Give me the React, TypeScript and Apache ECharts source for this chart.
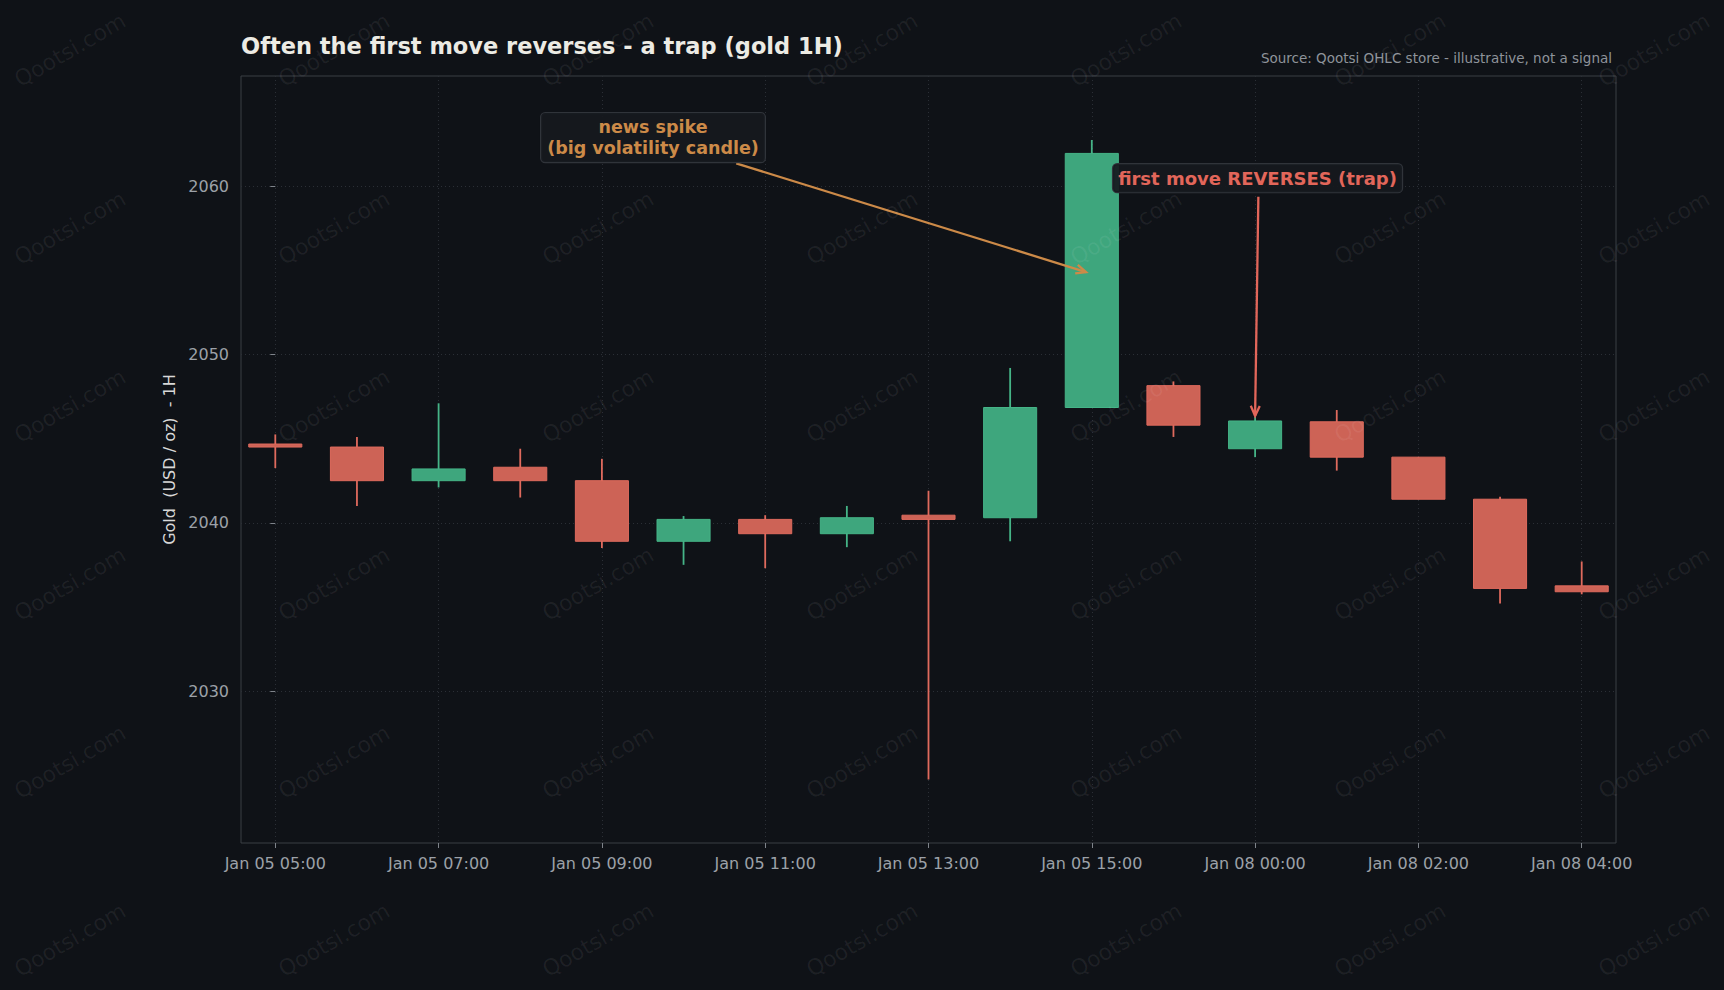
import React, { useEffect, useRef } from 'react';
import * as echarts from 'echarts';

// Hourly gold candles (USD / oz)
const categories = [
  'Jan 05 05:00', 'Jan 05 06:00', 'Jan 05 07:00', 'Jan 05 08:00', 'Jan 05 09:00', 'Jan 05 10:00',
  'Jan 05 11:00', 'Jan 05 12:00', 'Jan 05 13:00', 'Jan 05 14:00', 'Jan 05 15:00', 'Jan 05 16:00',
  'Jan 08 00:00', 'Jan 08 01:00', 'Jan 08 02:00', 'Jan 08 03:00', 'Jan 08 04:00',
];
const opens = [2044.68, 2044.5, 2042.5, 2043.3, 2042.5, 2038.9, 2040.2, 2039.35, 2040.45, 2040.3, 2046.85, 2048.15, 2044.4, 2046.0, 2043.9, 2041.4, 2036.25];
const closes = [2044.5, 2042.5, 2043.2, 2042.5, 2038.9, 2040.2, 2039.35, 2040.3, 2040.2, 2046.85, 2061.95, 2045.8, 2046.05, 2043.9, 2041.4, 2036.1, 2035.9];
const highs = [2045.25, 2045.1, 2047.1, 2044.4, 2043.8, 2040.4, 2040.45, 2041.0, 2041.9, 2049.2, 2062.75, 2048.4, 2046.3, 2046.7, 2043.9, 2041.55, 2037.7];
const lows = [2043.25, 2041.0, 2042.1, 2041.5, 2038.5, 2037.5, 2037.3, 2038.55, 2024.75, 2038.9, 2046.85, 2045.1, 2043.9, 2043.1, 2041.4, 2035.2, 2035.75];

const priceTicks = [2030, 2040, 2050, 2060];
const timeTicks = categories.map((_, i) => i).filter((i) => i % 2 === 0);

const Y_MIN = 2020.97;
const Y_MAX = 2066.55;
const X_MIN = -0.42;
const X_MAX = 16.42;
const BODY_WIDTH = 0.65;

// Callouts: label anchor, arrow start and arrow tip, in (candle index, price)
const newsNote = { text: 'news spike\n(big volatility candle)', at: [4.626, 2062.89], from: [5.645, 2061.36], to: [9.93, 2054.9] };
const trapNote = { text: 'first move REVERSES (trap)', at: [12.03, 2060.48], from: [12.04, 2059.37], to: [12.0, 2046.35] };

const BG = '#0f1217';
const UP = '#45b487';
const UP_FILL = '#3ea67d';
const DOWN = '#df6a5d';
const DOWN_FILL = '#cd6356';
const NEWS_COLOR = '#cc8a48';
const TRAP_COLOR = '#e2665a';
const FONT = '"DejaVu Sans", sans-serif';

export default function App() {
  const ref = useRef<HTMLDivElement>(null);

  useEffect(() => {
    if (!ref.current) return;
    document.body.style.margin = '0';
    document.body.style.background = BG;
    const chart = echarts.init(ref.current, null, { renderer: 'svg' });

    const data = categories.map((_, i) => [i, opens[i], closes[i], lows[i], highs[i]]);

    chart.setOption({
      animation: false,
      backgroundColor: BG,
      textStyle: { fontFamily: FONT },
      grid: {
        left: 241, top: 76, width: 1375, height: 767,
        show: true, borderColor: '#3a3e44', borderWidth: 1, backgroundColor: 'transparent',
      },
      xAxis: {
        type: 'value', min: X_MIN, max: X_MAX,
        axisLine: { show: false },
        axisTick: { show: true, length: 5, customValues: timeTicks, lineStyle: { color: '#7f848b' } },
        axisLabel: {
          customValues: timeTicks, margin: 12, color: '#9ca1a8', fontSize: 16, fontFamily: FONT,
          formatter: (v: number) => categories[Math.round(v)] ?? '',
        },
        splitLine: { show: true, lineStyle: { color: '#2b2f36', type: [1, 3], width: 1 } },
      },
      yAxis: {
        type: 'value', min: Y_MIN, max: Y_MAX,
        axisLine: { show: false },
        axisTick: { show: true, length: 5, customValues: priceTicks, lineStyle: { color: '#7f848b' } },
        axisLabel: {
          customValues: priceTicks, margin: 12, color: '#9ca1a8', fontSize: 16, fontFamily: FONT,
          formatter: (v: number) => String(Math.round(v)),
        },
        splitLine: { show: true, lineStyle: { color: '#2b2f36', type: [1, 3], width: 1 } },
      },
      series: [
        {
          type: 'custom',
          data,
          encode: { x: 0, y: [1, 2, 3, 4] },
          clip: true,
          renderItem: (_params: any, api: any) => {
            const x = api.value(0);
            const o = api.value(1);
            const c = api.value(2);
            const l = api.value(3);
            const h = api.value(4);
            const up = c >= o;
            const [cx, yHigh] = api.coord([x, h]);
            const yLow = api.coord([x, l])[1];
            const yO = api.coord([x, o])[1];
            const yC = api.coord([x, c])[1];
            const w = api.size([BODY_WIDTH, 0])[0];
            const top = Math.min(yO, yC);
            const hgt = Math.max(Math.abs(yO - yC), 1);
            return {
              type: 'group',
              children: [
                { type: 'line', shape: { x1: cx, y1: yHigh, x2: cx, y2: yLow }, style: { stroke: up ? UP : DOWN, lineWidth: 1.8 } },
                { type: 'rect', shape: { x: cx - w / 2, y: top, width: w, height: hgt }, style: { fill: up ? UP_FILL : DOWN_FILL, stroke: up ? UP : DOWN, lineWidth: 1 } },
              ],
            };
          },
        },
      ],
    });

    const px = (p: number[]) => chart.convertToPixel({ gridIndex: 0 } as any, p) as number[];

    const arrow = (from: number[], to: number[], color: string) => {
      const [x1, y1] = px(from);
      const [x2, y2] = px(to);
      const ang = Math.atan2(y2 - y1, x2 - x1);
      const L = 11;
      const A = 0.42;
      const p1 = [x2 - L * Math.cos(ang - A), y2 - L * Math.sin(ang - A)];
      const p2 = [x2 - L * Math.cos(ang + A), y2 - L * Math.sin(ang + A)];
      return [
        { type: 'line', z: 30, shape: { x1, y1, x2, y2 }, style: { stroke: color, lineWidth: 2.3 } },
        { type: 'polyline', z: 30, shape: { points: [p1, [x2, y2], p2] }, style: { stroke: color, lineWidth: 2.3, fill: null } },
      ];
    };

    const callout = (note: { text: string; at: number[] }, color: string, size: number, lh: number, pad: number[]) => {
      const [x, y] = px(note.at);
      return {
        type: 'text', z: 31, x, y,
        style: {
          text: note.text, fill: color, font: `bold ${size}px ${FONT}`,
          align: 'center', verticalAlign: 'middle', lineHeight: lh,
          backgroundColor: 'rgba(22,25,30,0.92)', borderColor: '#30343a', borderWidth: 1.2,
          borderRadius: 4, padding: pad,
        },
      };
    };

    const marks: any[] = [];
    for (let r = 0; r < 6; r++) {
      for (let c = 0; c < 7; c++) {
        marks.push({
          type: 'text', z: 40, x: 70 + c * 264, y: 50 + r * 178, rotation: Math.PI / 6, silent: true,
          style: { text: 'Qootsi.com', fill: 'rgba(255,255,255,0.065)', font: `22px ${FONT}`, align: 'center', verticalAlign: 'middle' },
        });
      }
    }

    chart.setOption({
      graphic: {
        elements: [
          {
            type: 'text', x: 241, y: 46,
            style: { text: 'Often the first move reverses - a trap (gold 1H)', fill: '#ecebe4', font: `bold 22.5px ${FONT}`, align: 'left', verticalAlign: 'middle' },
          },
          {
            type: 'text', x: 1612, y: 57.5,
            style: { text: 'Source: Qootsi OHLC store - illustrative, not a signal', fill: '#8e939a', font: `13.5px ${FONT}`, align: 'right', verticalAlign: 'middle' },
          },
          {
            type: 'text', x: 169, y: 459.5, rotation: Math.PI / 2,
            style: { text: 'Gold  (USD / oz)  - 1H', fill: '#d8d8d8', font: `16px ${FONT}`, align: 'center', verticalAlign: 'middle' },
          },
          ...arrow(newsNote.from, newsNote.to, NEWS_COLOR),
          ...arrow(trapNote.from, trapNote.to, TRAP_COLOR),
          callout(newsNote, NEWS_COLOR, 17.5, 20.5, [4, 6]),
          callout(trapNote, TRAP_COLOR, 18, 20, [4, 5]),
          ...marks,
        ],
      },
    });

    return () => chart.dispose();
  }, []);

  return <div ref={ref} style={{ position: 'fixed', left: 0, top: 0, width: 1724, height: 990 }} />;
}
